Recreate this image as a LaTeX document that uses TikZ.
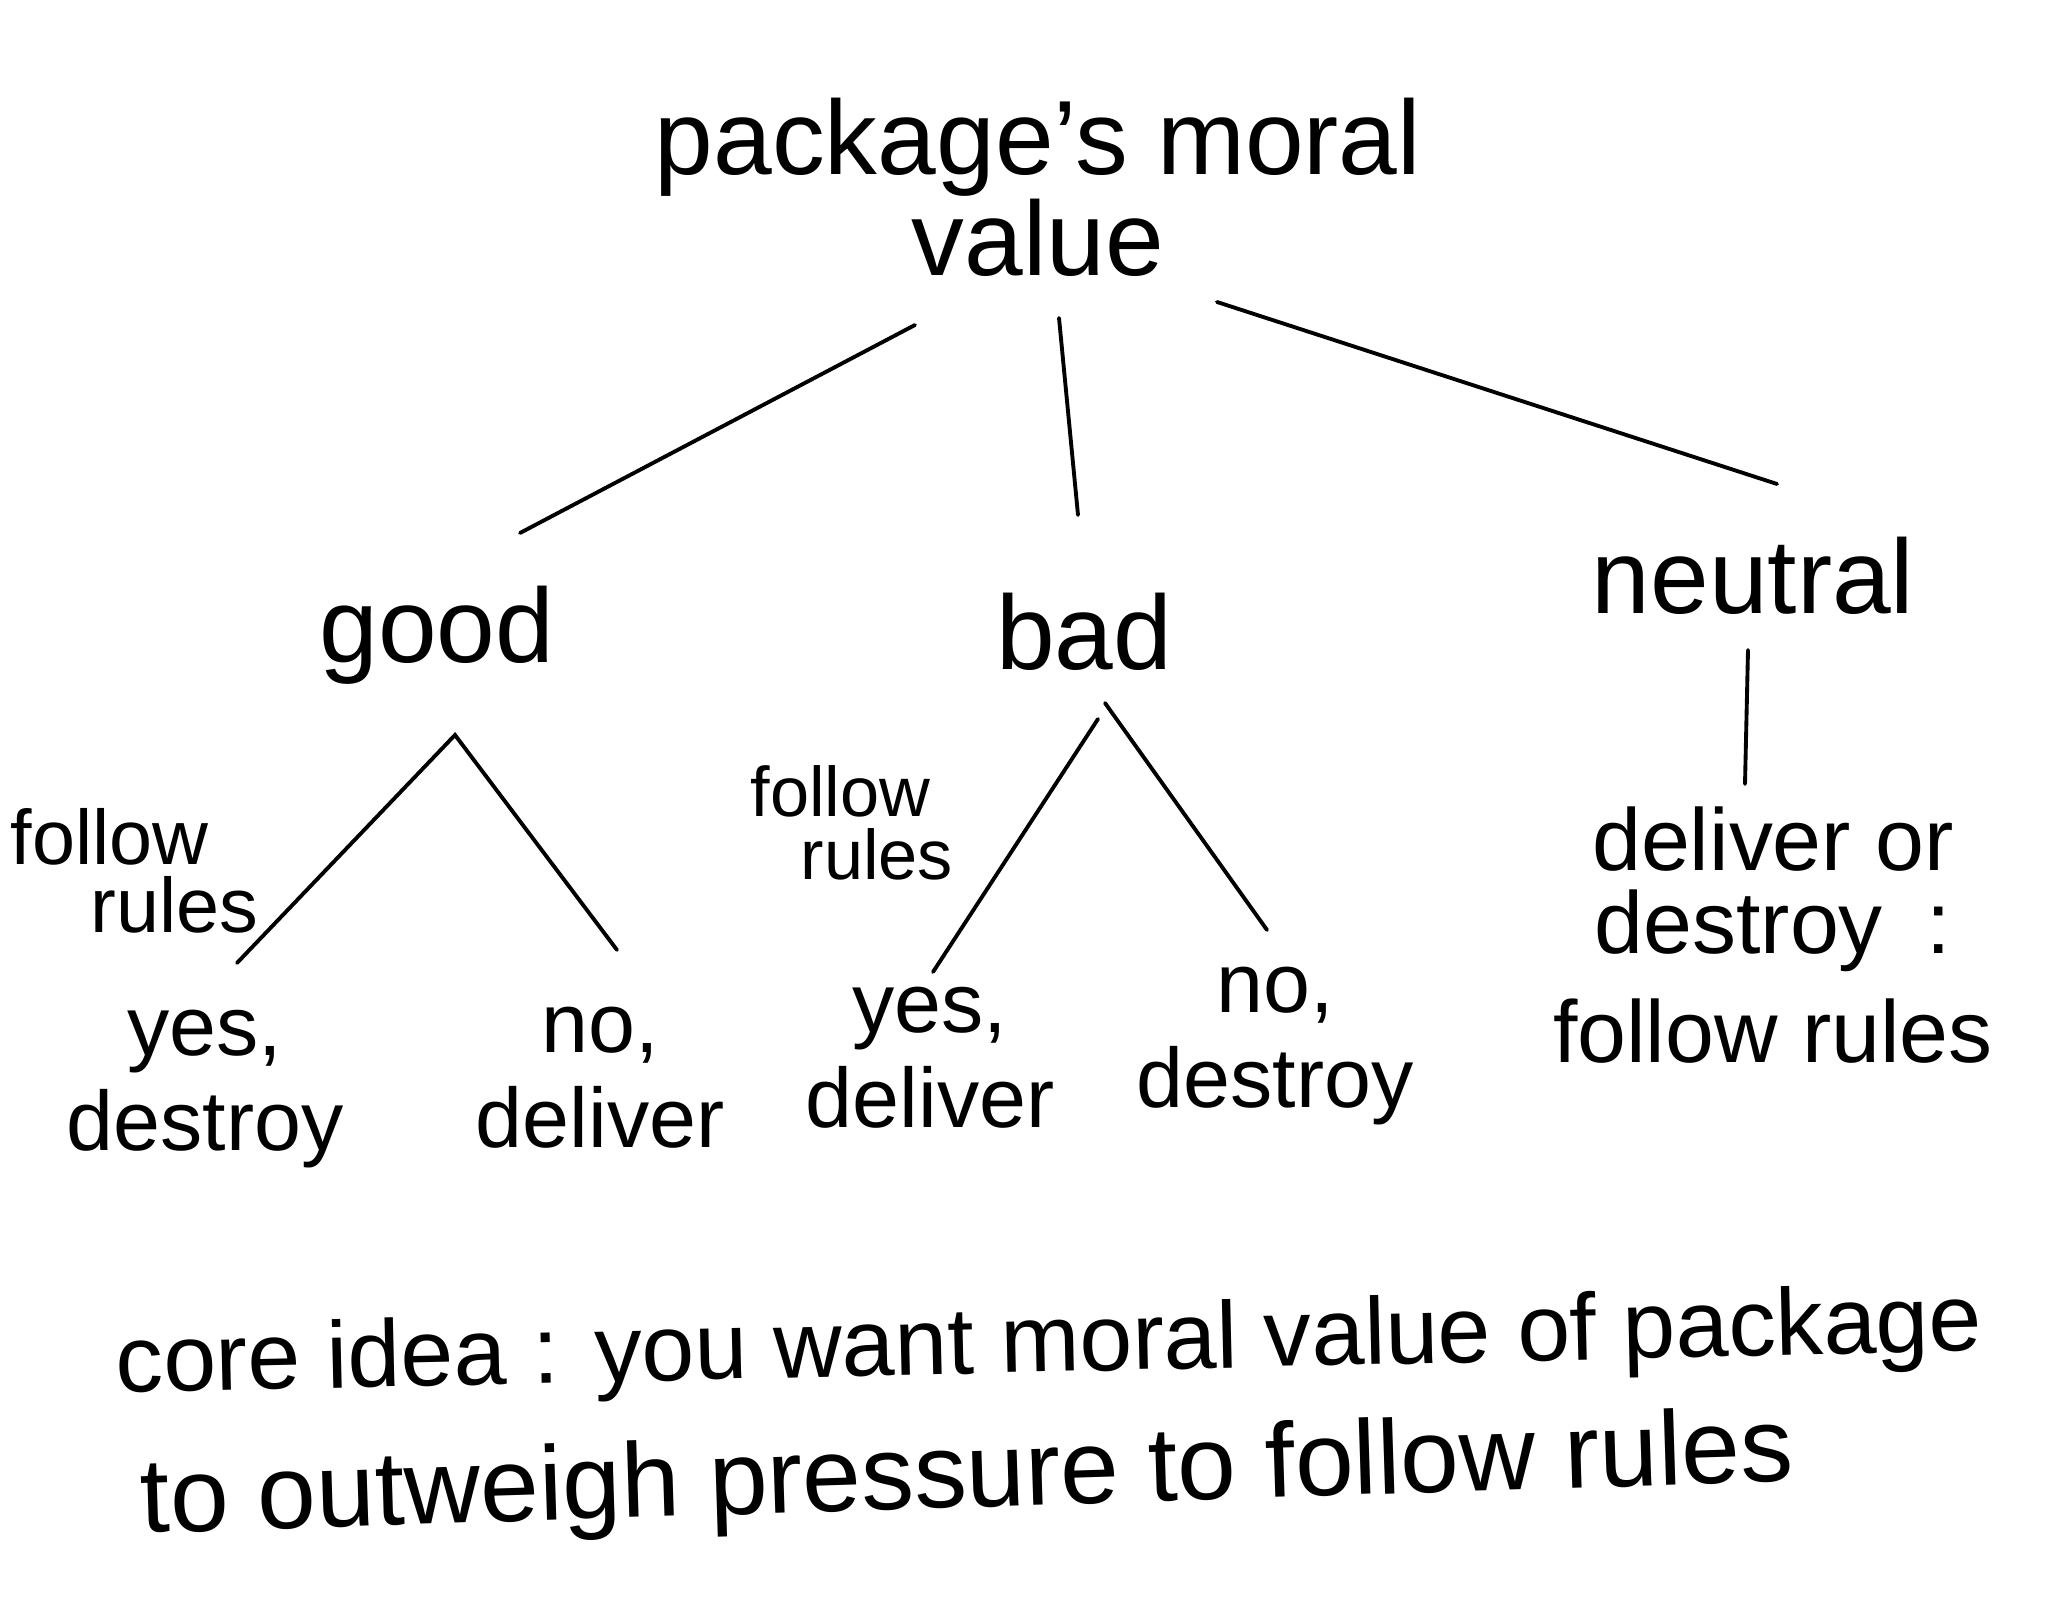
\documentclass[tikz,border=0pt]{standalone}
\usepackage{fontspec}
\setmainfont{Liberation Sans}

\begin{document}
\begin{tikzpicture}[x=0.01cm, y=-0.01cm,
  title/.style={font=\fontsize{30}{29}\selectfont, align=center, anchor=base, inner sep=0pt},
  choice/.style={font=\fontsize{30}{30}\selectfont, anchor=base, inner sep=0pt},
  leaf/.style={font=\fontsize{24}{27}\selectfont, align=center, anchor=base, inner sep=0pt},
  rulelabel/.style={font=\fontsize{22}{19.5}\selectfont, align=left, anchor=base west, inner sep=0pt},
  idea/.style={font=\fontsize{27}{30}\selectfont, anchor=base west, inner sep=0pt},
  branch/.style={line width=1.1pt, line cap=round}]
\useasboundingbox (0,0) rectangle (2048,1604);

% tree (base = last line)
\node[title] (top) at (1038,276) {package's moral\\value};
\node[choice] (good) at (437,663) {good};
\node[choice] (bad) at (1084,670) {bad};
\node[choice] (neutral) at (1753,614) {neutral};

\node[leaf] (gy) at (205,1150) {yes,\\destroy};
\node[leaf] (gn) at (600,1147) {no,\\deliver};
\node[leaf] (by) at (930,1127) {yes,\\deliver};
\node[leaf] (bn) at (1275,1107) {no,\\destroy};
\node[leaf, font=\fontsize{25}{23.5}\selectfont] (nd) at (1773,1063) {deliver or\\destroy\enspace:\\[0.27cm]follow rules};

\node[rulelabel] (fr1) at (10,933) {follow\\\hspace*{0.8cm}rules};
\node[rulelabel, font=\fontsize{20}{18}\selectfont] (fr2) at (750,880) {follow\\\hspace*{0.5cm}rules};

\draw[branch] ([shift={(-123,49)}]top.base) -- ([shift={(83,-130)}]good.base);
\draw[branch] ([shift={(21,42)}]top.base) -- ([shift={(-6,-155)}]bad.base);
\draw[branch] ([shift={(179,26)}]top.base) -- ([shift={(24,-130)}]neutral.base);
\draw[branch] ([shift={(-5,36)}]neutral.base) -- ([shift={(-28,-279)}]nd.base);

\draw[branch] ([shift={(32,-187)}]gy.base) -- ([shift={(18,72)}]good.base) -- ([shift={(17,-197)}]gn.base);
\draw[branch] ([shift={(14,49)}]bad.base) -- ([shift={(3,-155)}]by.base);
\draw[branch] ([shift={(21,33)}]bad.base) -- ([shift={(-8,-177)}]bn.base);

% core idea
\node[idea, rotate=1.3] (idea1) at (116,1393) {core idea : you want moral value of package};
\node[idea, rotate=1.8, font=\fontsize{30}{30}\selectfont] (idea2) at (141,1533) {to outweigh pressure to follow rules};
\end{tikzpicture}
\end{document}
